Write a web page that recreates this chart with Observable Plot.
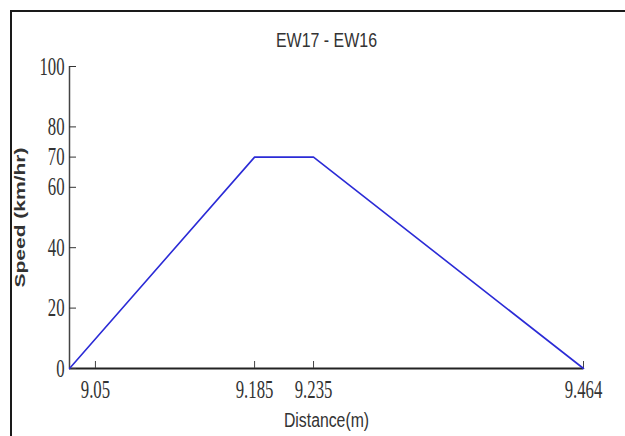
<!DOCTYPE html>
<html>
<head>
<meta charset="utf-8">
<script src="https://cdn.jsdelivr.net/npm/d3@7"></script>
<script src="https://cdn.jsdelivr.net/npm/@observablehq/plot@0.6"></script>
<style>
  html, body { margin: 0; padding: 0; background: #fff; overflow: hidden; }
  #wrap { position: relative; width: 625px; height: 436px; }
  #border { position: absolute; left: 10px; top: 10px; width: 700px; height: 600px; border: 2px solid #1a1a1a; box-sizing: border-box; pointer-events: none; }
  #chart svg { display: block; }
</style>
</head>
<body>
<div id="wrap"><div id="chart"></div><div id="border"></div></div>
<script>
const title = "EW17 - EW16";
const xLabel = "Distance(m)";
const yLabel = "Speed (km/hr)";
const distance = [9.028, 9.185, 9.235, 9.464];
const speed = [0, 70, 70, 0];
const xTicks = [9.05, 9.185, 9.235, 9.464];
const yTicks = [0, 20, 40, 60, 70, 80, 100];
const xDomain = [9.028, 9.464];
const yDomain = [0, 100];

const data = distance.map((d, i) => ({distance: d, speed: speed[i]}));

const chart = Plot.plot({
  width: 625,
  height: 436,
  marginLeft: 69,
  marginRight: 42,
  marginTop: 66,
  marginBottom: 68,
  style: {background: "transparent"},
  x: {domain: xDomain},
  y: {domain: yDomain},
  marks: [
    Plot.ruleX([xDomain[0]], {stroke: "#444", strokeWidth: 1.5}),
    Plot.ruleY([yDomain[0]], {stroke: "#222", strokeWidth: 2}),
    Plot.axisY(yTicks, {anchor: "left", tickSize: 7, dx: 7, tickPadding: 5, label: null,
      tickFormat: d => String(d), stroke: "#333", fill: "#333",
      fontFamily: "Liberation Serif", fontSize: 25}),
    Plot.axisX(xTicks, {anchor: "bottom", tickSize: 7, dy: -7, tickPadding: 12, label: null,
      tickFormat: d => String(d), stroke: "#444", fill: "#333",
      fontFamily: "Liberation Serif", fontSize: 25}),
    Plot.line(data, {x: "distance", y: "speed", stroke: "#2b2bd6", strokeWidth: 1.6}),
    Plot.text([title], {frameAnchor: "top", lineAnchor: "middle", dy: -26, fontFamily: "Liberation Sans", fontSize: 21, fill: "#333"}),
    Plot.text([xLabel], {frameAnchor: "bottom", lineAnchor: "middle", dy: 52, fontFamily: "Liberation Sans", fontSize: 20, fill: "#333"}),
    Plot.text([yLabel], {frameAnchor: "left", textAnchor: "middle", lineAnchor: "middle", dx: -49, rotate: -90, fontFamily: "Liberation Sans", fontWeight: "bold", fontSize: 14.5, fill: "#333"})
  ]
});
document.getElementById("chart").appendChild(chart);

// condense / stretch glyphs to match the reference's aspect
function squeeze(nodes, factor) {
  nodes.forEach(t => {
    const len = t.getComputedTextLength();
    t.setAttribute("textLength", len * factor);
    t.setAttribute("lengthAdjust", "spacingAndGlyphs");
  });
}
squeeze(chart.querySelectorAll('g[aria-label="y-axis tick label"] text'), 0.67);
squeeze(chart.querySelectorAll('g[aria-label="x-axis tick label"] text'), 0.67);
const texts = chart.querySelectorAll('g[aria-label="text"]');
if (texts[0]) squeeze(texts[0].querySelectorAll("text"), 0.76);
if (texts[1]) squeeze(texts[1].querySelectorAll("text"), 0.79);
if (texts[2]) texts[2].querySelectorAll("text").forEach(t => {
  const tr = t.getAttribute("transform") || "";
  t.setAttribute("transform", tr + " scale(1.45,1)");
});
</script>
</body>
</html>
